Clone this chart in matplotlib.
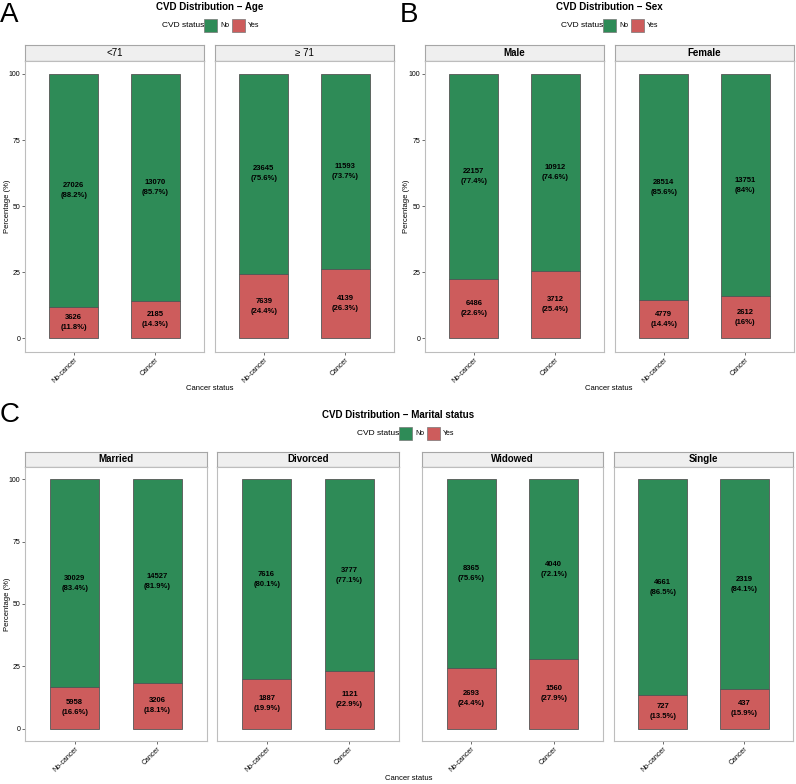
import matplotlib
matplotlib.use("Agg")
import matplotlib.pyplot as plt
from matplotlib.patches import Rectangle

plt.rcParams["font.family"] = ["Liberation Sans", "DejaVu Sans"]

W, H = 796, 784

cancer_groups = ["No-cancer", "Cancer"]

# panel A - age
age_facets = ["<71", "\u2265 71"]
age_no_n = [[27026, 13070], [23645, 11593]]
age_no_pct = [[88.2, 85.7], [75.6, 73.7]]
age_yes_n = [[3626, 2185], [7639, 4139]]
age_yes_pct = [[11.8, 14.3], [24.4, 26.3]]

# panel B - sex
sex_facets = ["Male", "Female"]
sex_no_n = [[22157, 10912], [28514, 13751]]
sex_no_pct = [[77.4, 74.6], [85.6, 84.0]]
sex_yes_n = [[6486, 3712], [4779, 2612]]
sex_yes_pct = [[22.6, 25.4], [14.4, 16.0]]

# panel C - marital status
mar_facets = ["Married", "Divorced", "Widowed", "Single"]
mar_no_n = [[30029, 14527], [7616, 3777], [8365, 4040], [4661, 2319]]
mar_no_pct = [[83.4, 81.9], [80.1, 77.1], [75.6, 72.1], [86.5, 84.1]]
mar_yes_n = [[5958, 3206], [1887, 1121], [2693, 1560], [727, 437]]
mar_yes_pct = [[16.6, 18.1], [19.9, 22.9], [24.4, 27.9], [13.5, 15.9]]

yticks = [0, 25, 50, 75, 100]

GREEN = "#2E8B57"
RED = "#CD5C5C"
BORDER = "#BDBDBD"

fig = plt.figure(figsize=(W / 100, H / 100), dpi=100)


def add_ax(x0, y0, x1, y1):
    return fig.add_axes([x0 / W, 1 - y1 / H, (x1 - x0) / W, (y1 - y0) / H])


def fx(x):
    return x / W


def fy(y):
    return 1 - y / H


def facet(x0, x1, strip_top, strip_bot, bottom, label, no_n, no_pct, yes_n, yes_pct,
          show_y, bold_strip=True):
    st = add_ax(x0, strip_top, x1, strip_bot)
    st.set_facecolor("#EFEFEF")
    st.set_xticks([])
    st.set_yticks([])
    for s in st.spines.values():
        s.set_color("#A6A6A6")
        s.set_linewidth(0.8)
    st.spines["bottom"].set_color("#555555")
    st.text(0.5, 0.5, label, ha="center", va="center", fontsize=7,
            fontweight="bold" if bold_strip else "normal", transform=st.transAxes)

    ax = add_ax(x0, strip_bot, x1, bottom)
    xs = [1, 2]
    ax.bar(xs, yes_pct, width=0.6, color=RED, edgecolor="#555555", linewidth=0.6)
    ax.bar(xs, no_pct, width=0.6, bottom=yes_pct, color=GREEN, edgecolor="#555555", linewidth=0.6)
    for i in range(2):
        ax.text(xs[i], yes_pct[i] / 2, f"{yes_n[i]}\n({yes_pct[i]:g}%)", ha="center",
                va="center", fontsize=5.5, fontweight="bold", linespacing=1.6)
        ax.text(xs[i], yes_pct[i] + no_pct[i] / 2, f"{no_n[i]}\n({no_pct[i]:g}%)",
                ha="center", va="center", fontsize=5.5, fontweight="bold", linespacing=1.6)
    ax.set_xlim(0.4, 2.6)
    ax.set_ylim(-5, 105)
    ax.set_xticks(xs)
    ax.set_xticklabels(cancer_groups, rotation=45, ha="right", va="top",
                       rotation_mode="anchor", fontsize=5)
    ax.tick_params(length=2, width=0.6, color="#555555", pad=1.5)
    if show_y:
        ax.set_yticks(yticks)
        ax.set_yticklabels([str(t) for t in yticks], fontsize=5)
    else:
        ax.set_yticks([])
    for s in ax.spines.values():
        s.set_color(BORDER)
        s.set_linewidth(0.8)
    return ax


def legend(cy, x_start):
    fig.text(fx(x_start), fy(cy), "CVD status", ha="left", va="center", fontsize=6)
    kx = x_start + 42
    for col, lab, off in [(GREEN, "No", 0), (RED, "Yes", 28)]:
        fig.patches.append(Rectangle((fx(kx + off), fy(cy + 6.5)), 13 / W, 13 / H,
                                     transform=fig.transFigure, facecolor=col,
                                     edgecolor="#777777", linewidth=0.5))
        fig.text(fx(kx + off + 16), fy(cy), lab, ha="left", va="center", fontsize=5)


# ---------- panel A ----------
fig.text(fx(0), fy(2), "A", ha="left", va="top", fontsize=20)
fig.text(fx(210), fy(7), "CVD Distribution \u2212 Age", ha="center", va="center",
         fontsize=7, fontweight="bold")
legend(25.5, 162)
for k, (x0, x1) in enumerate([(25, 204), (215, 394)]):
    facet(x0, x1, 44.7, 60.7, 351.7, age_facets[k], age_no_n[k], age_no_pct[k],
          age_yes_n[k], age_yes_pct[k], show_y=(k == 0), bold_strip=False)
fig.text(fx(8), fy(206), "Percentage (%)", rotation=90, ha="center", va="center", fontsize=5.5)
fig.text(fx(210), fy(388), "Cancer status", ha="center", va="center", fontsize=5.5)

# ---------- panel B ----------
fig.text(fx(400), fy(2), "B", ha="left", va="top", fontsize=20)
fig.text(fx(609), fy(7), "CVD Distribution \u2212 Sex", ha="center", va="center",
         fontsize=7, fontweight="bold")
legend(25.5, 561)
for k, (x0, x1) in enumerate([(425, 604), (615, 794)]):
    facet(x0, x1, 44.7, 60.7, 351.7, sex_facets[k], sex_no_n[k], sex_no_pct[k],
          sex_yes_n[k], sex_yes_pct[k], show_y=(k == 0))
fig.text(fx(407), fy(206), "Percentage (%)", rotation=90, ha="center", va="center", fontsize=5.5)
fig.text(fx(609), fy(388), "Cancer status", ha="center", va="center", fontsize=5.5)

# ---------- panel C ----------
fig.text(fx(0), fy(402), "C", ha="left", va="top", fontsize=20)
fig.text(fx(398), fy(415), "CVD Distribution \u2212 Marital status", ha="center",
         va="center", fontsize=7, fontweight="bold")
legend(433.5, 357)
for k, (x0, x1) in enumerate([(25, 207), (217, 399), (422, 603), (614, 793)]):
    facet(x0, x1, 451.7, 466.7, 741, mar_facets[k], mar_no_n[k], mar_no_pct[k],
          mar_yes_n[k], mar_yes_pct[k], show_y=(k == 0))
fig.text(fx(8), fy(604), "Percentage (%)", rotation=90, ha="center", va="center", fontsize=5.5)
fig.text(fx(409), fy(779), "Cancer status", ha="center", va="center", fontsize=5.5)

fig.savefig("out.png", dpi=100)
